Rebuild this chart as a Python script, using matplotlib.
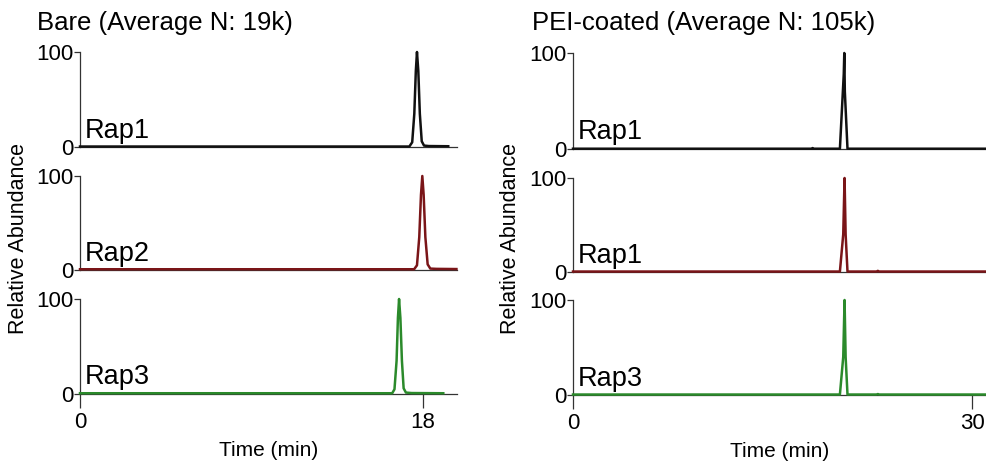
import matplotlib
matplotlib.use("Agg")
import matplotlib.pyplot as plt

plt.rcParams["font.family"] = ["Liberation Sans", "DejaVu Sans"]

# ---- data (time in min, relative abundance %) ----
bare_titles = "Bare (Average N: 19k)"
pei_titles = "PEI-coated (Average N: 105k)"

bare_labels = ["Rap1", "Rap2", "Rap3"]
pei_labels = ["Rap1", "Rap1", "Rap3"]
colors = ["#111111", "#7a1518", "#2b8a2b"]

bare_rap1_t = [0.0, 17.28, 17.43, 17.54, 17.62, 17.68, 17.75, 17.83, 17.93, 18.05, 18.30, 19.32]
bare_rap1_y = [0.5, 0.5, 5, 35, 80, 100, 80, 35, 6, 1.5, 1.0, 0.8]
bare_rap2_t = [0.0, 17.53, 17.68, 17.80, 17.89, 17.96, 18.03, 18.12, 18.24, 18.38, 18.70, 19.75]
bare_rap2_y = [0.8, 0.8, 5, 35, 80, 100, 80, 35, 6, 1.5, 1.2, 1.0]
bare_rap3_t = [0.0, 16.38, 16.50, 16.61, 16.68, 16.74, 16.81, 16.89, 16.98, 17.10, 17.40, 19.06]
bare_rap3_y = [0.8, 0.8, 5, 35, 80, 100, 80, 35, 6, 1.5, 1.0, 0.8]

pei_rap1_t = [0.0, 17.95, 18.0, 18.05, 20.05, 20.34, 20.38, 20.42, 20.62, 31.2]
pei_rap1_y = [0.3, 0.3, 1.0, 0.3, 0.3, 78, 100, 60, 0.3, 0.3]
pei_rap2_t = [0.0, 20.05, 20.30, 20.40, 20.48, 20.62, 22.8, 22.9, 23.0, 31.2]
pei_rap2_y = [0.5, 0.5, 40, 100, 40, 0.5, 0.5, 1.2, 0.5, 0.5]
pei_rap3_t = [0.0, 20.05, 20.30, 20.40, 20.48, 20.62, 22.8, 22.9, 23.0, 31.2]
pei_rap3_y = [0.5, 0.5, 40, 100, 40, 0.5, 0.5, 1.0, 0.5, 0.5]

bare_traces = [(bare_rap1_t, bare_rap1_y), (bare_rap2_t, bare_rap2_y), (bare_rap3_t, bare_rap3_y)]
pei_traces = [(pei_rap1_t, pei_rap1_y), (pei_rap2_t, pei_rap2_y), (pei_rap3_t, pei_rap3_y)]

W, H = 987, 463
fig = plt.figure(figsize=(W / 100, H / 100), dpi=100)


def px_axes(x0, x1, y_top, y_bot):
    return fig.add_axes([x0 / W, 1 - y_bot / H, (x1 - x0) / W, (y_bot - y_top) / H])


def style(ax, xmax, xticks, bottom):
    ax.set_xlim(0, xmax)
    ax.set_ylim(0, 100)
    for s in ("top", "right"):
        ax.spines[s].set_visible(False)
    for s in ("left", "bottom"):
        ax.spines[s].set_color("#333333")
        ax.spines[s].set_linewidth(0.9)
    ax.set_yticks([0, 100])
    ax.tick_params(axis="y", length=4, width=0.9, pad=1, labelsize=16, color="#333333")
    if bottom:
        ax.set_xticks(xticks)
        ax.tick_params(axis="x", length=10, width=0.9, pad=3, labelsize=16,
                       color="#333333", direction="out")
    else:
        ax.set_xticks([])


bare_rows = [(52, 147), (176, 270), (299, 394)]
pei_rows = [(53, 149), (178, 272), (300, 395)]

for i, ((t, y), lab) in enumerate(zip(bare_traces, bare_labels)):
    ax = px_axes(80, 457, *bare_rows[i])
    ax.plot(t, y, color=colors[i], lw=1.8, clip_on=False, zorder=3)
    style(ax, 19.78, [0, 18], i == 2)
    ax.text(0.012, 0.1, lab, transform=ax.transAxes, fontsize=19.5, va="baseline")
    if i == 2:
        ax.set_xlabel("Time (min)", fontsize=15, labelpad=6)

for i, ((t, y), lab) in enumerate(zip(pei_traces, pei_labels)):
    ax = px_axes(573, 987, *pei_rows[i])
    ax.plot(t, y, color=colors[i], lw=1.8, clip_on=False, zorder=3)
    style(ax, 31.1, [0, 30], i == 2)
    ax.text(0.012, 0.1, lab, transform=ax.transAxes, fontsize=19.5, va="baseline")
    if i == 2:
        ax.set_xlabel("Time (min)", fontsize=15, labelpad=6)

fig.text(37 / W, 1 - 23 / H, bare_titles, fontsize=18.5, va="center", ha="left")
fig.text(532 / W, 1 - 23 / H, pei_titles, fontsize=18.5, va="center", ha="left")
fig.text(19 / W, 1 - 238 / H, "Relative Abundance", rotation=90, fontsize=15.5,
         va="center", ha="center")
fig.text(511 / W, 1 - 238 / H, "Relative Abundance", rotation=90, fontsize=15.5,
         va="center", ha="center")

fig.savefig("out.png", dpi=100)
